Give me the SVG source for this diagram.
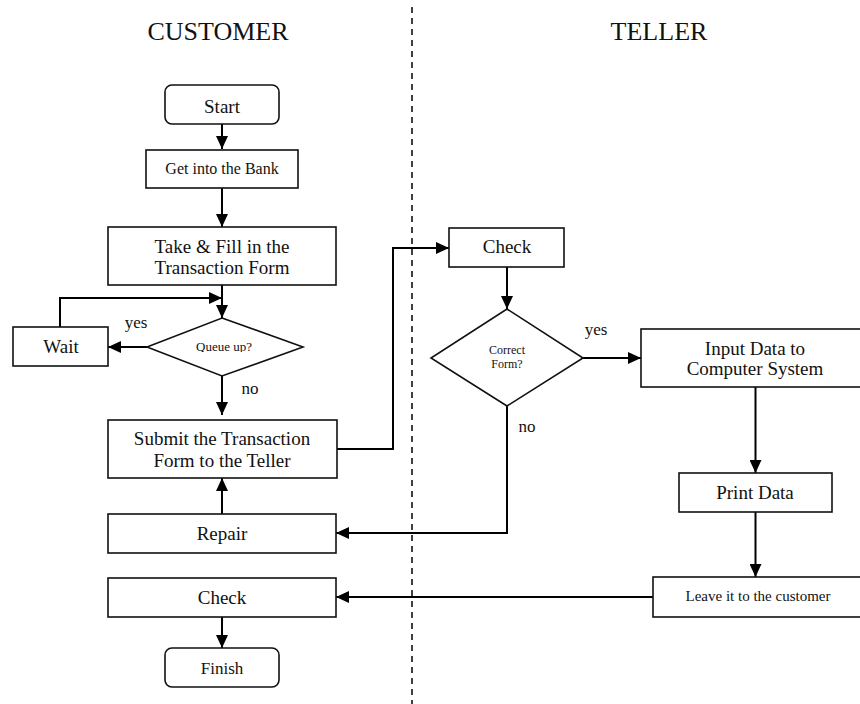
<svg xmlns="http://www.w3.org/2000/svg" width="860" height="704" viewBox="0 0 860 704">
<style>
text{font-family:"Liberation Serif","Times New Roman",serif;fill:#111;text-anchor:middle}
.box{fill:#fff;stroke:#111;stroke-width:1.6}
.t19{font-size:19px}
.t17{font-size:17px}
.t16{font-size:16px}
.t15{font-size:15px}
.t13{font-size:13px}
.t12{font-size:12px}
.title{font-size:26px}
.conn{fill:none;stroke:#000;stroke-width:2}
.lane{stroke:#111;stroke-width:1.6;stroke-dasharray:6 5}
</style>
<defs>
<marker id="ah" markerUnits="userSpaceOnUse" markerWidth="13" markerHeight="12" refX="13" refY="6" orient="auto">
<path d="M0,0 L13,6 L0,12 z" fill="#000"/>
</marker>
<clipPath id="qclip"><rect x="150" y="330" width="150" height="22"/></clipPath>
</defs>
<line class="lane" x1="412" y1="7" x2="412" y2="704"/>
<text class="title" x="218" y="40">CUSTOMER</text>
<text class="title" x="659" y="40">TELLER</text>
<g id="connectors">
<path class="conn" d="M222,124 V149" marker-end="url(#ah)"/>
<path class="conn" d="M222,188 V227" marker-end="url(#ah)"/>
<path class="conn" d="M222,285 V318" marker-end="url(#ah)"/>
<path class="conn" d="M60,327 V298 H222" marker-end="url(#ah)"/>
<path class="conn" d="M147,347 H108" marker-end="url(#ah)"/>
<path class="conn" d="M222,376 V415" marker-end="url(#ah)"/>
<path class="conn" d="M337,449 H393 V248 H449" marker-end="url(#ah)"/>
<path class="conn" d="M507,267 V309" marker-end="url(#ah)"/>
<path class="conn" d="M583,358 H641" marker-end="url(#ah)"/>
<path class="conn" d="M755.5,387 V473" marker-end="url(#ah)"/>
<path class="conn" d="M755.5,512 V577" marker-end="url(#ah)"/>
<path class="conn" d="M507,406 V533 H336" marker-end="url(#ah)"/>
<path class="conn" d="M222,514 V478" marker-end="url(#ah)"/>
<path class="conn" d="M653,597 H336" marker-end="url(#ah)"/>
<path class="conn" d="M222,617 V648" marker-end="url(#ah)"/>
</g>
<g id="start"><rect class="box" x="165" y="85" width="114" height="39" rx="7"/><text class="t19" x="222" y="113">Start</text></g>
<g id="bank"><rect class="box" x="146" y="150" width="152" height="38"/><text class="t16" x="222" y="174">Get into the Bank</text></g>
<g id="fill"><rect class="box" x="108" y="227" width="228" height="58"/><text class="t19" x="222" y="253">Take &amp; Fill in the</text><text class="t19" x="222" y="274">Transaction Form</text></g>
<g id="queue"><polygon class="box" points="222,318 303,347 222,376 147,347"/><text class="t13" x="224" y="351" clip-path="url(#qclip)">Queue up?</text></g>
<text class="t17" x="136" y="328">yes</text>
<text class="t17" x="250" y="394">no</text>
<g id="wait"><rect class="box" x="13" y="327" width="95" height="39"/><text class="t19" x="61" y="353">Wait</text></g>
<g id="submit"><rect class="box" x="108" y="420" width="229" height="58"/><text class="t19" x="222" y="445">Submit the Transaction</text><text class="t19" x="222" y="467">Form to the Teller</text></g>
<g id="repair"><rect class="box" x="108" y="514" width="228" height="39"/><text class="t19" x="222" y="540">Repair</text></g>
<g id="check-customer"><rect class="box" x="108" y="578" width="228" height="39"/><text class="t19" x="222" y="604">Check</text></g>
<g id="finish"><rect class="box" x="165" y="648" width="114" height="39" rx="7"/><text class="t17" x="222" y="674">Finish</text></g>
<g id="check-teller"><rect class="box" x="449" y="228" width="115" height="39"/><text class="t19" x="507" y="253">Check</text></g>
<g id="correct"><polygon class="box" points="507,309 583,358 507,406 431,358"/><text class="t12" x="507" y="354">Correct</text><text class="t12" x="507" y="368">Form?</text></g>
<text class="t17" x="596" y="335">yes</text>
<text class="t17" x="527" y="432">no</text>
<g id="input"><rect class="box" x="641" y="329" width="229" height="58"/><text class="t19" x="755" y="355">Input Data to</text><text class="t19" x="755" y="375">Computer System</text></g>
<g id="print"><rect class="box" x="679" y="473" width="153" height="39"/><text class="t19" x="755" y="499">Print Data</text></g>
<g id="leave"><rect class="box" x="653" y="577" width="211" height="40"/><text class="t15" x="758" y="601">Leave it to the customer</text></g>
</svg>
